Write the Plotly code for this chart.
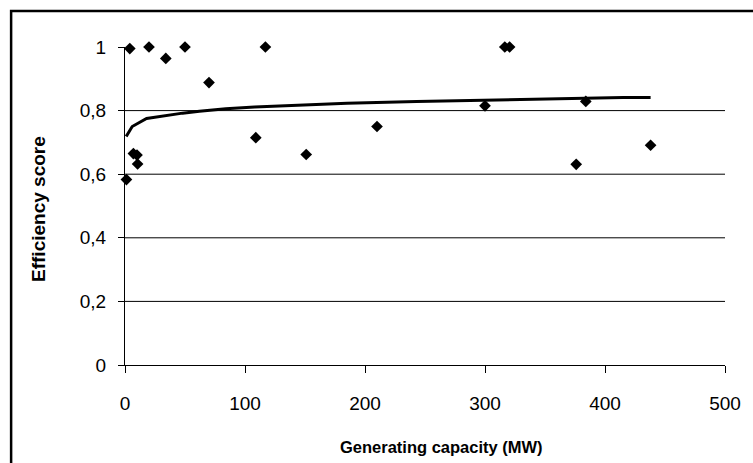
import plotly.graph_objects as go

# Data
capacity_mw = [1.2, 4, 7, 10, 10.5, 20, 34, 50, 70, 109, 117, 151, 210, 300, 316.5, 320.5, 376, 384, 438]
efficiency = [0.583, 0.995, 0.665, 0.66, 0.632, 1.0, 0.964, 1.0, 0.888, 0.715, 1.0, 0.662, 0.75, 0.815, 1.0, 1.0, 0.631, 0.829, 0.691]

trend_x = [1, 6, 18, 35, 48, 62, 84, 108, 144, 185, 243, 316, 415, 438]
trend_y = [0.719, 0.75, 0.775, 0.785, 0.792, 0.798, 0.806, 0.811, 0.817, 0.823, 0.829, 0.835, 0.841, 0.841]

y_tick_vals = [0, 0.2, 0.4, 0.6, 0.8, 1]
y_tick_text = ["0", "0,2", "0,4", "0,6", "0,8", "1"]
x_tick_vals = [0, 100, 200, 300, 400, 500]
x_tick_text = ["0", "100", "200", "300", "400", "500"]
grid_vals = [0.2, 0.4, 0.6, 0.8]

W, H = 753, 463
L, R, T, B = 124.5, 733, 46.5, 365


def px_x(p):
    return (p - L) / (R - L)


def px_y(p):
    return (B - p) / (B - T)


fig = go.Figure()
fig.add_trace(go.Scatter(
    x=capacity_mw, y=efficiency, mode="markers",
    marker=dict(symbol="diamond", size=9, color="black"),
    showlegend=False, cliponaxis=False,
))
fig.add_trace(go.Scatter(
    x=trend_x, y=trend_y, mode="lines",
    line=dict(color="black", width=3),
    showlegend=False,
))

shapes = []
for g in grid_vals:
    shapes.append(dict(type="line", xref="paper", yref="y", x0=0, x1=1, y0=g, y1=g,
                       line=dict(color="black", width=1), layer="below"))
# outer frame (right/bottom edges fall outside the page)
shapes.append(dict(type="rect", xref="paper", yref="paper",
                   x0=px_x(9), x1=px_x(W + 20), y0=px_y(H + 20), y1=px_y(10.5),
                   line=dict(color="black", width=2.5), fillcolor="rgba(0,0,0,0)"))

tick_font = dict(family="Liberation Sans, Arial", size=19, color="black")

fig.update_layout(
    width=W, height=H,
    margin=dict(l=L, r=W - R, t=T, b=H - B),
    paper_bgcolor="white", plot_bgcolor="white",
    shapes=shapes,
    xaxis=dict(range=[0, 500], tickvals=x_tick_vals, ticktext=x_tick_text,
               showgrid=False, zeroline=False, showline=True, linecolor="black", linewidth=1,
               ticks="outside", ticklen=7, tickcolor="black", tickfont=tick_font,
               ticklabelstandoff=14),
    yaxis=dict(range=[0, 1], tickvals=y_tick_vals, ticktext=y_tick_text,
               showgrid=False, zeroline=False, showline=True, linecolor="black", linewidth=1,
               ticks="outside", ticklen=6, tickcolor="black", tickfont=tick_font,
               ticklabelstandoff=8),
    annotations=[
        dict(text="<b>Generating capacity (MW)</b>", xref="paper", yref="paper",
             x=px_x(445), y=px_y(447), xanchor="center", yanchor="middle", showarrow=False,
             font=dict(family="Liberation Sans, Arial", size=16.5, color="black")),
        dict(text="<b>Efficiency score</b>", xref="paper", yref="paper",
             x=px_x(37), y=px_y(209), xanchor="center", yanchor="middle", showarrow=False,
             textangle=-90,
             font=dict(family="Liberation Sans, Arial", size=19, color="black")),
    ],
)

fig.write_html(
    "out.html",
    config={"displayModeBar": False},
    post_script="document.body.style.margin='0';document.body.style.overflow='hidden';",
)
